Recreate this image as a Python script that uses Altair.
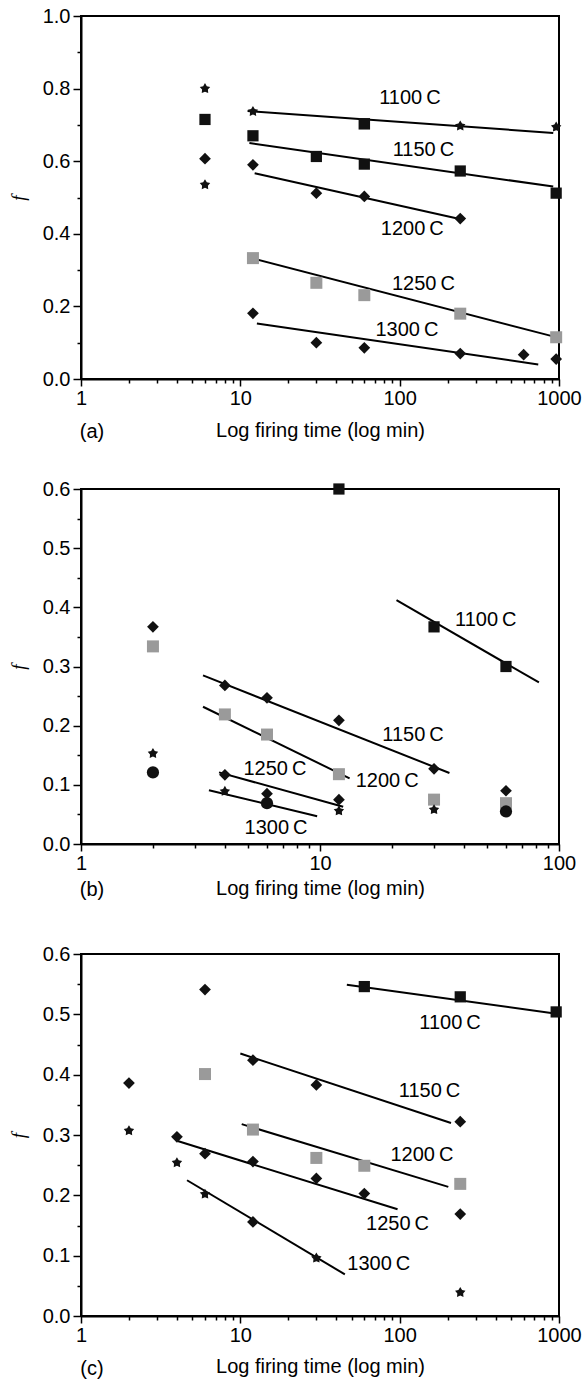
import altair as alt
import pandas as pd

TEMPS = ["1100C", "1150C", "1200C", "1250C", "1300C"]
TEMP_LABELS = ["1100\u2009C", "1150\u2009C", "1200\u2009C", "1250\u2009C", "1300\u2009C"]

# ---------------- panel (a) ----------------
A_PT_T = [6, 6, 6, 6,
          12, 12, 12, 12, 12,
          30, 30, 30, 30,
          60, 60, 60, 60, 60,
          240, 240, 240, 240, 240,
          600,
          960, 960, 960, 960]
A_PT_F = [0.800, 0.715, 0.607, 0.535,
          0.737, 0.670, 0.590, 0.333, 0.181,
          0.613, 0.512, 0.265, 0.100,
          0.703, 0.592, 0.503, 0.231, 0.086,
          0.697, 0.573, 0.442, 0.180, 0.070,
          0.067,
          0.694, 0.512, 0.115, 0.055]
A_PT_M = ["star", "square", "diamond", "star",
          "star", "square", "diamond", "hash", "diamond",
          "square", "diamond", "hash", "diamond",
          "smallsq", "square", "diamond", "hash", "diamond",
          "star", "square", "diamond", "hash", "diamond",
          "diamond",
          "star", "square", "hash", "diamond"]
A_L_T0 = [11.1, 11.4, 12.3, 12.0, 12.7]
A_L_F0 = [0.738, 0.650, 0.567, 0.332, 0.153]
A_L_T1 = [920, 920, 254, 944, 741]
A_L_F1 = [0.678, 0.530, 0.438, 0.116, 0.040]
A_LAB_T = [116, 141, 120, 141, 111]
A_LAB_F = [0.773, 0.632, 0.414, 0.263, 0.135]

# ---------------- panel (b) ----------------
B_PT_T = [2, 2, 2, 2,
          4, 4, 4, 4,
          6, 6, 6, 6,
          12, 12, 12, 12, 12,
          30, 30, 30, 30,
          60, 60, 60, 60]
B_PT_F = [0.367, 0.334, 0.153, 0.121,
          0.268, 0.219, 0.117, 0.089,
          0.247, 0.185, 0.085, 0.069,
          0.600, 0.209, 0.118, 0.075, 0.056,
          0.367, 0.127, 0.075, 0.058,
          0.300, 0.090, 0.069, 0.055]
B_PT_M = ["diamond", "hash", "star", "circle",
          "diamond", "hash", "diamond", "star",
          "diamond", "hash", "diamond", "circle",
          "square", "diamond", "hash", "diamond", "star",
          "square", "diamond", "hash", "star",
          "square", "diamond", "hash", "circle"]
B_L_T0 = [20.9, 3.24, 3.24, 3.78, 3.43]
B_L_F0 = [0.412, 0.285, 0.232, 0.121, 0.091]
B_L_T1 = [82.4, 34.8, 13.3, 12.5, 9.73]
B_L_F1 = [0.273, 0.120, 0.111, 0.063, 0.047]
B_LAB_T = [49.4, 24.5, 19.1, 6.48, 6.55]
B_LAB_F = [0.379, 0.185, 0.107, 0.127, 0.027]

# ---------------- panel (c) ----------------
C_PT_T = [2, 2,
          4, 4,
          6, 6, 6, 6,
          12, 12, 12, 12,
          30, 30, 30, 30,
          60, 60, 60,
          240, 240, 240, 240, 240,
          960]
C_PT_F = [0.386, 0.307,
          0.297, 0.254,
          0.541, 0.401, 0.269, 0.202,
          0.424, 0.309, 0.256, 0.156,
          0.383, 0.262, 0.228, 0.096,
          0.546, 0.249, 0.203,
          0.529, 0.322, 0.219, 0.169, 0.039,
          0.504]
C_PT_M = ["diamond", "star",
          "diamond", "star",
          "diamond", "hash", "diamond", "star",
          "diamond", "hash", "diamond", "diamond",
          "diamond", "hash", "diamond", "star",
          "square", "hash", "diamond",
          "square", "diamond", "hash", "diamond", "star",
          "square"]
C_L_T0 = [46.6, 10.0, 10.2, 4.04, 4.63]
C_L_F0 = [0.549, 0.435, 0.318, 0.290, 0.225]
C_L_T1 = [965, 210, 202, 97, 45.3]
C_L_F1 = [0.501, 0.320, 0.214, 0.177, 0.069]
C_LAB_T = [207, 154, 138, 97, 74]
C_LAB_F = [0.486, 0.373, 0.267, 0.153, 0.087]

X_TITLE = "Log firing time (log min)"
TICKS_1000 = [1, 2, 3, 4, 5, 6, 7, 8, 9, 10, 20, 30, 40, 50, 60, 70, 80, 90,
              100, 200, 300, 400, 500, 600, 700, 800, 900, 1000]
TICKS_100 = [1, 2, 3, 4, 5, 6, 7, 8, 9, 10, 20, 30, 40, 50, 60, 70, 80, 90, 100]
Y_MAJ_A = [0.0, 0.2, 0.4, 0.6, 0.8, 1.0]
Y_MIN_A = [0.1, 0.3, 0.5, 0.7, 0.9]
Y_MAJ_BC = [0.0, 0.1, 0.2, 0.3, 0.4, 0.5, 0.6]
Y_MIN_BC = [0.05, 0.15, 0.25, 0.35, 0.45, 0.55]

STAR = ("M0,-1L0.33,-0.45L0.95,-0.31L0.53,0.17L0.59,0.81L0,0.56"
        "L-0.59,0.81L-0.53,0.17L-0.95,-0.31L-0.33,-0.45Z")
M_DOMAIN = ["star", "square", "smallsq", "diamond", "hash", "circle"]
M_SHAPES = [STAR, "square", "square", "diamond", "square", "circle"]
M_SIZES = [120, 150, 70, 95, 80, 50]
M_COLORS = ["#111111", "#111111", "#111111", "#111111", "#9a9a9a", "#111111"]

FONT = "Liberation Sans, Arial, Helvetica, sans-serif"
W = 478


def panel(pt_t, pt_f, pt_m, l_t0, l_f0, l_t1, l_f1, lab_t, lab_f,
          xmax, xticks, ymax, ymaj, ymin, tag, h, tpad, tag_off):
    pts = pd.DataFrame({"t": pt_t, "f": pt_f, "m": pt_m})
    lines = pd.DataFrame({"temp": TEMPS + TEMPS, "t": l_t0 + l_t1, "f": l_f0 + l_f1})
    labs = pd.DataFrame({"t": lab_t, "f": lab_f, "lab": TEMP_LABELS})
    tagdf = pd.DataFrame({"tag": [tag]})

    decades = [v for v in xticks if v in (1, 10, 100, 1000)]
    dec_str = "[" + ",".join(str(v) for v in decades) + "]"
    maj_str = "[" + ",".join(repr(v) for v in ymaj) + "]"

    xaxis = alt.Axis(
        values=xticks,
        labelExpr=f"indexof({dec_str}, datum.value) >= 0 ? format(datum.value, 'd') : ''",
        tickSize={"condition": {"test": f"indexof({dec_str}, datum.value) >= 0", "value": 7}, "value": 4},
        labelFlush=False, labelOverlap=False, labelPadding=2,
        title=X_TITLE, titlePadding=tpad,
    )
    yaxis = alt.Axis(
        values=ymaj + ymin,
        labelExpr=f"indexof({maj_str}, datum.value) >= 0 ? format(datum.value, '.1f') : ''",
        tickSize={"condition": {"test": f"indexof({maj_str}, datum.value) >= 0", "value": 8}, "value": 4},
        labelOverlap=False, labelPadding=3,
        title="f", titleFont="Liberation Serif, Times New Roman, serif",
        titleFontStyle="italic", titleFontSize=19, titlePadding=14,
    )
    xs = alt.Scale(type="log", domain=[1, xmax], nice=False)
    ys = alt.Scale(domain=[0, ymax], nice=False, zero=False)
    xe = alt.X("t:Q", scale=xs, axis=xaxis)
    ye = alt.Y("f:Q", scale=ys, axis=yaxis)

    line_layer = alt.Chart(lines).mark_line(color="black", strokeWidth=2).encode(
        x=xe, y=ye, detail="temp:N")
    pt_layer = alt.Chart(pts).mark_point(filled=True, opacity=1, strokeWidth=0).encode(
        x=xe, y=ye,
        shape=alt.Shape("m:N", scale=alt.Scale(domain=M_DOMAIN, range=M_SHAPES), legend=None),
        size=alt.Size("m:N", scale=alt.Scale(domain=M_DOMAIN, range=M_SIZES), legend=None),
        color=alt.Color("m:N", scale=alt.Scale(domain=M_DOMAIN, range=M_COLORS), legend=None),
    )
    lab_layer = alt.Chart(labs).mark_text(
        font=FONT, fontSize=20, color="black", align="center", baseline="middle"
    ).encode(x=xe, y=ye, text="lab:N")
    tag_layer = alt.Chart(tagdf).mark_text(
        font=FONT, fontSize=20, color="black", align="center", baseline="middle"
    ).encode(x=alt.value(11), y=alt.value(h + tag_off), text="tag:N")

    return alt.layer(line_layer, pt_layer, lab_layer, tag_layer).properties(width=W, height=h)


pa = panel(A_PT_T, A_PT_F, A_PT_M, A_L_T0, A_L_F0, A_L_T1, A_L_F1, A_LAB_T, A_LAB_F,
           1000, TICKS_1000, 1.0, Y_MAJ_A, Y_MIN_A, "(a)", 363, 12, 53)
pb = panel(B_PT_T, B_PT_F, B_PT_M, B_L_T0, B_L_F0, B_L_T1, B_L_F1, B_LAB_T, B_LAB_F,
           100, TICKS_100, 0.6, Y_MAJ_BC, Y_MIN_BC, "(b)", 355, 5, 46)
pc = panel(C_PT_T, C_PT_F, C_PT_M, C_L_T0, C_L_F0, C_L_T1, C_L_F1, C_LAB_T, C_LAB_F,
           1000, TICKS_1000, 0.6, Y_MAJ_BC, Y_MIN_BC, "(c)", 362, 11, 53)

chart = alt.vconcat(pa, pb, pc, spacing=110, bounds="flush").resolve_scale(
    x="independent", y="independent"
).properties(
    padding={"left": 8, "top": 5, "right": 0, "bottom": 0}, background="white"
).configure_view(
    stroke="black", strokeWidth=2
).configure_axis(
    domainColor="black", domainWidth=2, tickColor="black", tickWidth=1.5,
    labelFont=FONT, labelFontSize=20, labelColor="black",
    titleFont=FONT, titleFontSize=20, titleFontWeight="normal", titleColor="black",
    grid=False,
)

chart.save("out.html", embed_options={"renderer": "svg", "actions": False})
